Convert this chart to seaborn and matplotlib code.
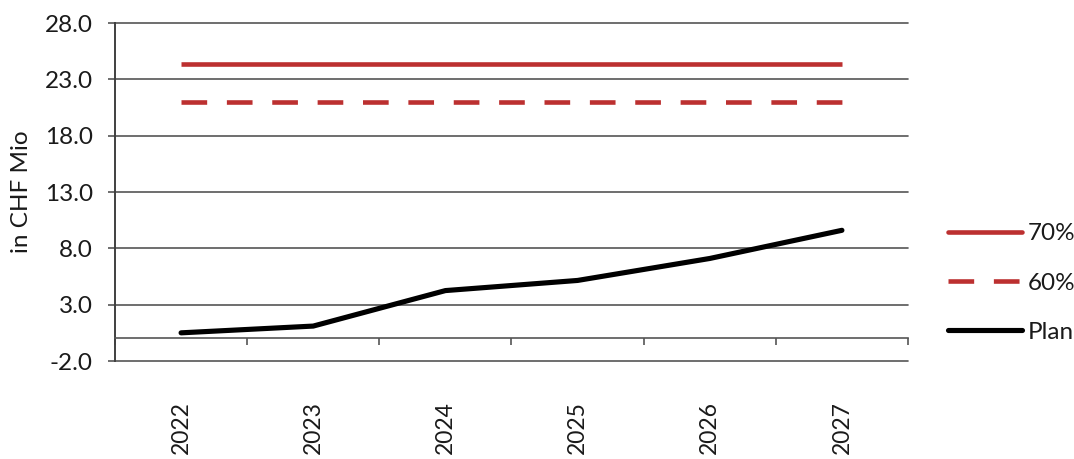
import matplotlib
matplotlib.use("Agg")
import matplotlib.pyplot as plt
import seaborn as sns
import numpy as np
from matplotlib.ticker import FixedLocator, FixedFormatter
from matplotlib.lines import Line2D

years = ["2022", "2023", "2024", "2025", "2026", "2027"]
threshold_70 = [24.4, 24.4, 24.4, 24.4, 24.4, 24.4]
threshold_60 = [21.0, 21.0, 21.0, 21.0, 21.0, 21.0]
plan = [0.5, 1.1, 4.25, 5.15, 7.1, 9.6]
y_ticks = [-2.0, 3.0, 8.0, 13.0, 18.0, 23.0, 28.0]
y_tick_labels = ["-2.0", "3.0", "8.0", "13.0", "18.0", "23.0", "28.0"]
series_labels = ["70%", "60%", "Plan"]

sns.set_style("white")
plt.rcParams["font.family"] = ["Lato", "DejaVu Sans"]
plt.rcParams["axes.unicode_minus"] = False

RED = "#BC3030"
GRID = "#555555"
TXT = "#1a1a1a"
FS = 17.5

fig = plt.figure(figsize=(10.74, 4.59), dpi=100)
ax = fig.add_axes([115 / 1074, 1 - 361 / 459, (908 - 115) / 1074, (361 - 23) / 459])

dash = (0, (5.6, 4.3))
sns.lineplot(x=years, y=threshold_70, ax=ax, color=RED, linewidth=3.3,
             solid_capstyle="butt", zorder=3)
sns.lineplot(x=years, y=threshold_60, ax=ax, color=RED, linewidth=3.3,
             linestyle=dash, zorder=3)
sns.lineplot(x=years, y=plan, ax=ax, color="black", linewidth=3.7,
             solid_capstyle="round", zorder=3)

ax.set_xlim(-0.5, len(years) - 0.5)
ax.set_ylim(y_ticks[0], y_ticks[-1])

# y axis
ax.yaxis.set_major_locator(FixedLocator(y_ticks))
ax.yaxis.set_major_formatter(FixedFormatter(y_tick_labels))
ax.tick_params(axis="y", which="major", left=True, length=5, width=1.2,
               color=GRID, pad=11, labelsize=FS, labelcolor=TXT)
ax.yaxis.grid(True, color=GRID, linewidth=1.2)
for gl in ax.get_ygridlines():
    gl.set_clip_on(False)
ax.set_axisbelow(True)
ax.set_ylabel("in CHF Mio", fontsize=FS, color=TXT, labelpad=9)

# x axis at y=0
ax.spines["bottom"].set_position(("data", 0))
ax.spines["bottom"].set_color(GRID)
ax.spines["bottom"].set_linewidth(1.2)
ax.spines["left"].set_color("#404040")
ax.spines["left"].set_linewidth(1.4)
ax.spines["top"].set_visible(False)
ax.spines["right"].set_visible(False)

bounds = [i - 0.5 for i in range(len(years) + 1)]
ax.xaxis.set_major_locator(FixedLocator(bounds))
ax.xaxis.set_major_formatter(FixedFormatter([""] * len(bounds)))
ax.xaxis.set_minor_locator(FixedLocator(list(range(len(years)))))
ax.xaxis.set_minor_formatter(FixedFormatter(years))
ax.tick_params(axis="x", which="major", bottom=True, length=5, width=1.2,
               color=GRID, direction="out")
ax.tick_params(axis="x", which="minor", bottom=True, length=0, pad=45,
               labelsize=16.5, labelcolor=TXT, labelrotation=90)
ax.set_xlabel("")

handles = [
    Line2D([], [], color=RED, linewidth=3.3),
    Line2D([], [], color=RED, linewidth=3.3, linestyle=dash),
    Line2D([], [], color="black", linewidth=3.7),
]
fig.legend(handles, series_labels, loc="center left",
           bbox_to_anchor=(948 / 1074, 1 - 283 / 459), frameon=False,
           fontsize=FS, handlelength=3.05, handletextpad=0.25,
           labelspacing=1.17, borderpad=0, borderaxespad=0,
           labelcolor=TXT)

fig.savefig("out.png", dpi=100)
